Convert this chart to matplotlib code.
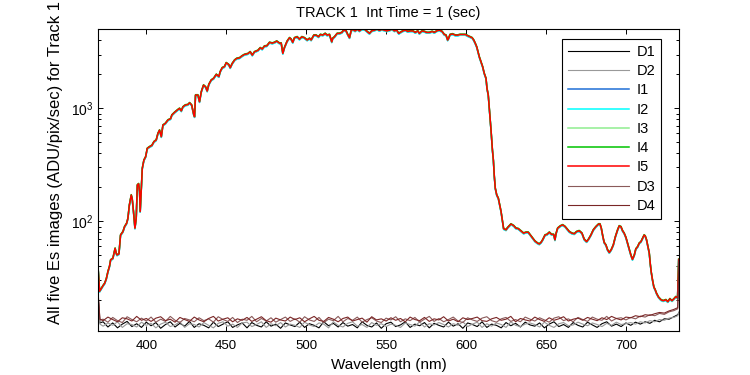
import numpy as np
import matplotlib
matplotlib.use("Agg")
import matplotlib.pyplot as plt

plt.rcParams['font.family'] = ['Liberation Sans', 'DejaVu Sans']

# Es spectrum (I5)
wl = [370.0, 370.8, 371.9, 373.0, 374.0, 375.0, 376.0, 377.0, 377.7, 379.1,
      380.5, 381.2, 381.7, 382.9, 383.9, 385.4, 386.4, 387.7, 388.5, 389.4,
      390.6, 391.2, 392.0, 392.9, 393.7, 394.4, 395.2, 395.8, 396.2, 396.9,
      397.5, 398.5, 399.6, 400.6, 402.0, 403.5, 404.8, 406.2, 407.3, 408.3,
      409.4, 410.4, 411.9, 413.5, 415.2, 416.0, 417.7, 419.4, 420.8, 421.9,
      422.9, 424.4, 426.0, 427.1, 428.4, 429.6, 430.2, 430.8, 432.3, 433.3,
      434.4, 435.8, 437.1, 438.1, 439.1, 440.6, 442.1, 443.8, 445.4, 446.2,
      447.5, 448.9, 450.0, 451.6, 452.5, 453.7, 455.2, 456.6, 458.3, 460.0,
      461.4, 463.5, 465.0, 466.3, 467.7, 469.8, 471.3, 472.5, 473.9, 475.4,
      477.1, 478.8, 480.2, 481.6, 483.3, 484.4, 485.4, 486.4, 488.1, 489.6,
      490.6, 491.6, 492.7, 494.4, 495.8, 497.3, 498.9, 500.6, 502.1, 503.1,
      504.8, 506.2, 507.7, 508.9, 510.4, 511.9, 513.1, 514.6, 516.0, 516.6,
      517.7, 519.4, 520.8, 522.3, 523.5, 525.0, 526.0, 527.1, 528.1, 529.1,
      530.6, 531.9, 533.3, 534.8, 536.4, 538.1, 539.6, 541.0, 542.7, 544.4,
      545.8, 547.3, 548.9, 550.4, 552.1, 553.8, 555.2, 556.6, 557.9, 558.8,
      560.4, 562.1, 563.5, 565.0, 566.7, 568.3, 569.8, 570.8, 572.5, 573.9,
      575.4, 577.1, 578.8, 580.2, 581.6, 583.3, 585.0, 586.4, 587.5, 588.5,
      589.1, 590.0, 591.6, 593.3, 594.8, 596.2, 597.9, 599.6, 601.0, 602.5,
      603.8, 604.8, 605.8, 606.7, 607.5, 608.3, 609.4, 610.4, 611.4, 612.5,
      613.1, 613.9, 614.8, 615.7, 616.5, 617.1, 617.7, 618.3, 619.2, 620.2,
      621.1, 621.9, 622.7, 623.5, 625.0, 626.0, 628.1, 629.8, 631.2, 632.7,
      634.4, 636.0, 637.5, 638.9, 640.2, 641.6, 643.1, 644.8, 645.8, 646.9,
      647.9, 649.4, 650.6, 652.1, 653.5, 654.8, 655.6, 656.3, 657.3, 659.0,
      660.4, 661.9, 663.1, 664.6, 666.2, 667.7, 669.1, 670.8, 672.5, 673.9,
      675.4, 676.6, 678.1, 679.6, 681.2, 682.9, 683.8, 684.6, 685.4, 686.4,
      687.5, 688.5, 689.6, 690.8, 692.1, 693.4, 694.8, 695.8, 696.9, 697.9,
      698.9, 700.0, 701.0, 702.1, 703.1, 704.1, 705.2, 706.2, 707.3, 708.3,
      709.4, 710.4, 711.4, 712.1, 712.9, 713.8, 714.6, 715.2, 715.8, 716.6,
      717.5, 718.3, 719.1, 720.4, 721.9, 723.3, 725.0, 726.2, 727.5, 728.8,
      730.2, 731.2, 732.3, 733.0]
es = [36, 24, 25.5, 27, 28.3, 31, 35.8, 40, 45.5, 47,
      57.7, 52, 50.3, 51.5, 75.6, 81, 89.6, 96, 106, 139,
      171, 158, 122, 87, 106, 210, 215, 183, 122, 196,
      294, 348, 373, 442, 457, 470, 507, 525, 601, 642,
      561, 711, 735, 788, 810, 873, 922, 966, 1000, 950,
      1030, 1070, 1080, 1120, 1070, 890, 843, 1312, 1312, 1144,
      1403, 1607, 1550, 1424, 1630, 1780, 1842, 2000, 1910, 2110,
      2290, 2340, 2535, 2440, 2290, 2490, 2675, 2770, 2800, 2920,
      3000, 3050, 3170, 2960, 3170, 3260, 3440, 3350, 3560, 3580,
      3840, 3780, 3840, 3940, 3780, 3780, 3070, 3450, 3940, 4220,
      4100, 3840, 4220, 4300, 4100, 4300, 4220, 4030, 4170, 4030,
      4450, 4450, 4300, 4510, 4450, 4610, 4450, 4510, 3880, 4170,
      4300, 4610, 4610, 4700, 4930, 4850, 4510, 4220, 4850, 5030,
      4850, 5030, 4850, 5030, 5030, 4800, 4610, 4850, 4930, 5030,
      4900, 5000, 4930, 4850, 4930, 5030, 4850, 4930, 4610, 4700,
      4850, 4930, 4800, 4850, 4850, 4700, 4850, 4610, 4850, 4800,
      4700, 4700, 4800, 4700, 4850, 4930, 4800, 4510, 4450, 4030,
      4170, 4510, 4560, 4450, 4450, 4510, 4510, 4510, 4400, 4300,
      4220, 4030, 3760, 3500, 3170, 2860, 2580, 2335, 2040, 1842,
      1503, 1312, 903, 621, 428, 348, 249, 196, 171, 160,
      139, 122, 103, 86, 84, 88, 94.6, 91.5, 87, 86,
      82, 78.5, 80, 80, 75.6, 71.4, 66.8, 64, 63, 65,
      68.5, 75.6, 76.5, 80, 76.5, 76.5, 68.5, 78, 87, 91,
      93, 90, 86, 81, 78.5, 77.5, 81, 82.5, 78.5, 69.4,
      66, 69.4, 75.6, 84, 89.6, 94.6, 94.6, 87, 75.6, 64.9,
      61.7, 56, 52.9, 56, 61.7, 73, 84, 91, 89.6, 82.5,
      78.5, 72, 64, 56, 50.3, 46, 50, 57, 59.5, 64,
      66, 70.7, 75.6, 74, 68.5, 59.5, 52.4, 42.5, 35.8, 30.4,
      26.1, 24.8, 23.1, 21.3, 20.2, 19.8, 20.2, 19.4, 20.6, 19.8,
      20.7, 21.5, 21, 46]

# relative level of the five image series against I5
img_names = ['I1', 'I2', 'I3', 'I4', 'I5']
img_gain = [0.99, 0.985, 1.0, 1.008, 1.0]

# dark frames
wl_dark = [370, 371] + list(range(373, 731, 3)) + [732.4, 733.2]
d1 = [20.5, 12.6,
      12.9, 11.6, 12.6, 11.4, 12.3, 13.0, 11.7, 12.4, 11.5, 12.8,
      11.9, 12.7, 11.3, 12.2, 12.9, 11.6, 12.5, 11.8, 13.0, 11.5,
      12.4, 12.0, 11.4, 12.8, 11.7, 12.3, 12.9, 11.5, 12.1, 12.6,
      11.4, 12.7, 12.0, 11.6, 12.9, 11.8, 12.3, 11.3, 12.6, 12.1,
      11.7, 12.8, 11.5, 12.4, 12.0, 11.4, 12.9, 11.9, 12.5, 11.6,
      12.7, 11.8, 12.2, 11.4, 12.9, 12.0, 11.6, 12.6, 11.3, 12.4,
      12.8, 11.7, 12.1, 12.9, 11.5, 12.3, 11.9, 12.7, 11.4, 12.5,
      12.0, 11.6, 12.8, 11.8, 12.4, 11.3, 12.6, 12.2, 11.7, 12.9,
      11.5, 12.3, 12.0, 11.4, 12.7, 11.9, 12.5, 11.6, 12.8, 12.1,
      11.8, 12.6, 11.4, 12.3, 12.9, 11.7, 12.2, 11.5, 12.7, 12.0,
      11.6, 12.8, 12.1, 11.5, 12.4, 12.9, 11.8, 12.3, 11.7, 12.6,
      12.0, 12.8, 12.3, 12.9, 12.5, 13.3, 12.9, 13.7, 13.6, 14.3,
      14.9, 15.6]
d2 = [20.0, 12.3,
      11.8, 12.6, 12.0, 12.9, 11.5, 12.4, 12.2, 11.6, 12.8, 12.0,
      12.5, 11.4, 12.3, 12.8, 11.7, 12.1, 12.9, 11.5, 12.4, 12.2,
      11.6, 12.7, 12.0, 11.4, 12.5, 12.9, 11.8, 12.3, 11.5, 12.6,
      12.8, 11.7, 12.2, 12.9, 11.5, 12.4, 11.9, 12.7, 11.6, 12.3,
      12.0, 11.5, 12.8, 12.1, 11.7, 12.6, 12.3, 11.4, 12.9, 12.0,
      11.6, 12.5, 12.9, 11.8, 12.2, 11.5, 12.7, 12.0, 12.4, 11.7,
      12.3, 12.0, 11.5, 12.6, 12.2, 11.8, 12.9, 11.6, 12.4, 12.1,
      12.7, 12.2, 11.6, 12.4, 12.0, 12.9, 11.7, 12.3, 12.8, 11.5,
      12.4, 11.8, 12.6, 12.2, 11.5, 12.9, 12.0, 11.7, 12.3, 12.6,
      12.2, 11.6, 12.8, 12.0, 11.5, 12.4, 12.7, 11.9, 12.1, 12.8,
      12.3, 11.9, 12.6, 12.2, 11.7, 12.5, 12.0, 12.8, 12.2, 12.4,
      12.7, 12.3, 12.9, 12.6, 13.2, 12.9, 13.5, 13.3, 13.9, 14.1,
      14.6, 15.8]
d3 = [21.5, 13.4,
      13.6, 12.8, 14.1, 13.2, 12.7, 14.3, 13.5, 12.9, 13.9, 13.1,
      14.2, 12.8, 13.6, 13.0, 14.4, 13.3, 12.7, 13.8, 13.4, 12.9,
      14.0, 13.2, 13.7, 12.8, 14.3, 13.5, 13.0, 14.1, 12.7, 13.6,
      13.3, 14.4, 12.9, 13.8, 13.1, 14.0, 12.8, 13.5, 14.2, 13.0,
      13.7, 12.8, 14.3, 13.4, 13.0, 14.1, 12.7, 13.6, 13.2, 14.4,
      12.9, 13.8, 13.3, 14.2, 12.8, 13.5, 14.0, 13.1, 12.7, 13.9,
      13.4, 14.3, 12.9, 13.7, 13.2, 14.1, 12.8, 13.6, 14.4, 13.0,
      13.8, 12.9, 13.5, 14.2, 13.1, 12.7, 14.0, 13.4, 13.0, 13.9,
      14.3, 13.2, 12.8, 13.7, 14.1, 13.0, 13.5, 12.9, 14.2, 13.6,
      13.1, 14.0, 13.4, 12.8, 13.9, 14.3, 13.2, 13.7, 12.9, 14.1,
      13.5, 13.0, 14.2, 13.6, 13.3, 14.4, 13.1, 13.8, 14.0, 13.4,
      14.1, 13.7, 14.5, 14.2, 14.9, 14.6, 15.3, 15.0, 15.8, 16.2,
      16.8, 44.0]
d4 = [22.0, 13.6,
      13.2, 14.2, 13.5, 12.9, 14.0, 13.7, 13.1, 14.4, 13.3, 13.8,
      13.0, 13.9, 14.3, 13.2, 13.6, 12.8, 14.1, 13.5, 13.0, 14.2,
      13.4, 12.9, 13.8, 14.4, 13.1, 13.6, 14.0, 12.9, 13.7, 13.3,
      14.1, 13.0, 13.6, 14.3, 13.2, 12.8, 13.9, 13.4, 13.1, 14.2,
      13.5, 14.0, 12.9, 13.7, 14.4, 13.3, 13.0, 14.1, 13.6, 12.9,
      13.8, 14.2, 13.1, 13.5, 13.9, 12.8, 14.3, 13.4, 13.7, 13.1,
      14.0, 13.3, 13.8, 12.9, 14.2, 13.5, 13.2, 14.1, 13.0, 13.7,
      13.4, 14.3, 13.1, 13.6, 12.9, 14.0, 13.5, 13.8, 14.2, 13.2,
      13.0, 13.7, 14.1, 13.3, 13.6, 14.4, 12.9, 13.8, 13.4, 13.1,
      14.2, 13.5, 13.0, 14.0, 13.3, 13.7, 14.3, 13.1, 13.6, 13.9,
      13.3, 14.1, 13.6, 13.2, 14.0, 13.5, 14.4, 13.8, 13.4, 14.2,
      14.0, 14.6, 14.3, 14.9, 14.7, 15.2, 15.6, 15.4, 16.1, 16.6,
      17.2, 46.0]

colors = {'D1': 'black', 'D2': '#999999', 'I1': '#1f6fd6', 'I2': '#00ffff',
          'I3': '#90ee90', 'I4': '#00c400', 'I5': '#ff0000',
          'D3': '#8a5a5a', 'D4': '#7a2626'}

fig = plt.figure(figsize=(7.5, 3.75), dpi=100)
ax = fig.add_axes([98 / 750, 44.5 / 375, 581 / 750, 302 / 375])

es = np.array(es)
ax.plot(wl_dark, d1, color=colors['D1'], lw=0.8, label='D1')
ax.plot(wl_dark, d2, color=colors['D2'], lw=0.8, label='D2')
for name, g in zip(img_names, img_gain):
    ax.plot(wl, es * g, color=colors[name], lw=1.1, label=name)
ax.plot(wl_dark, d3, color=colors['D3'], lw=0.8, label='D3')
ax.plot(wl_dark, d4, color=colors['D4'], lw=0.8, label='D4')

ax.set_yscale('log')
ax.set_xlim(369.8, 733.2)
ax.set_ylim(10.8, 5100)
ax.set_xticks([400, 450, 500, 550, 600, 650, 700])

ax.tick_params(which='both', direction='in', top=True, right=True, labelsize=9.5)
ax.tick_params(axis='x', pad=7)
ax.tick_params(axis='y', labelsize=10)
ax.tick_params(which='major', length=3.5, width=0.7)
ax.tick_params(which='minor', length=2, width=0.7)
for s in ax.spines.values():
    s.set_linewidth(0.8)

ax.set_xlabel('Wavelength (nm)', fontsize=11, labelpad=4)
ax.set_ylabel('All five Es images (ADU/pix/sec) for Track 1', fontsize=12)
ax.yaxis.set_label_coords(-0.061, 0.555)
ax.set_title('TRACK 1  Int Time = 1 (sec)', fontsize=10.5, pad=8)

leg = ax.legend(loc='upper right', fontsize=10.5, handlelength=4.2,
                handletextpad=0.5, labelspacing=0.36, borderpad=0.4,
                borderaxespad=0, fancybox=False, framealpha=1,
                edgecolor='black', bbox_to_anchor=(0.969, 0.965))
leg.get_frame().set_linewidth(0.8)

fig.savefig('out.png', dpi=100)
